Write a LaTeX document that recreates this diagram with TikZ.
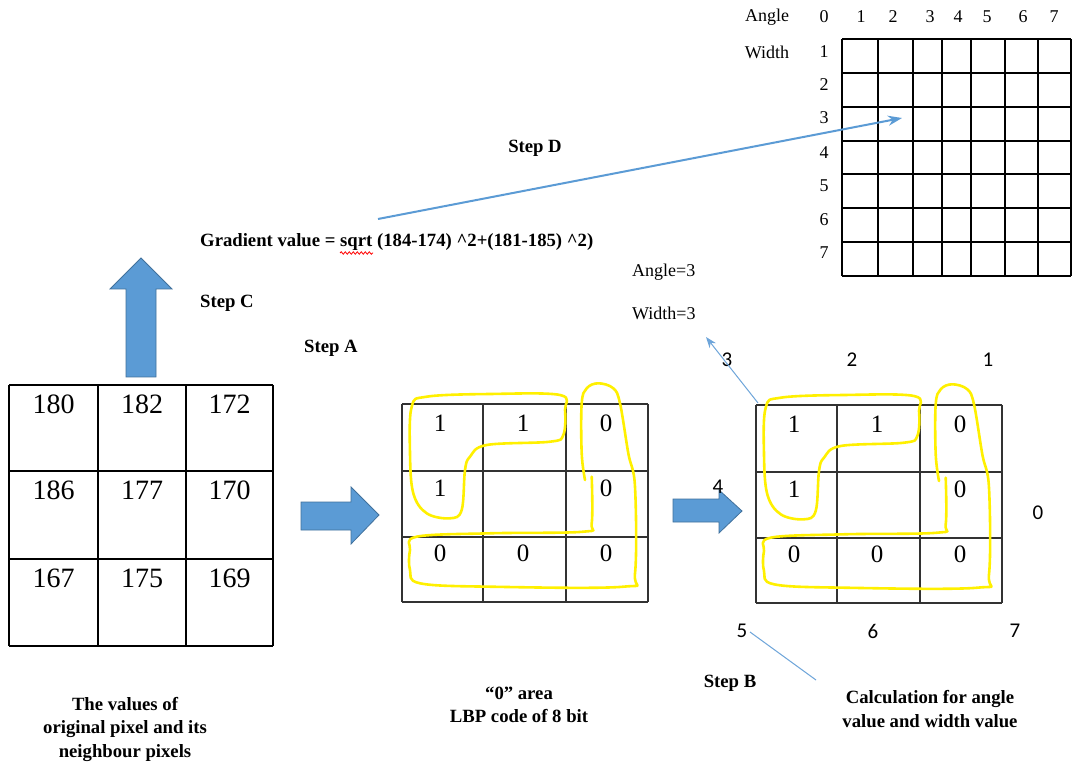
\documentclass[tikz,border=0pt]{standalone}
\usepackage{fontspec}
\setmainfont{Liberation Serif}
\newfontfamily\calib{Carlito}
\usetikzlibrary{arrows.meta,decorations.pathmorphing}
\definecolor{arrowblue}{RGB}{91,155,213}
\definecolor{arrowedge}{RGB}{65,113,156}
\definecolor{thinblue}{RGB}{110,165,218}
\definecolor{hiyellow}{RGB}{255,240,0}
\definecolor{gridgray}{RGB}{50,50,50}
\tikzset{
  bignum/.style={inner sep=0pt,font=\fontsize{28}{30}\selectfont},
  bitnum/.style={inner sep=0pt,font=\fontsize{25}{27}\selectfont},
  dirnum/.style={inner sep=0pt,font=\calib\fontsize{21}{23}\selectfont},
  smalltxt/.style={inner sep=0pt,font=\fontsize{18}{20}\selectfont},
  boldlbl/.style={inner sep=0pt,align=center,font=\bfseries\fontsize{18.7}{23.5}\selectfont},
  blockarrow/.style={fill=arrowblue,draw=arrowedge,line width=0.8pt,line join=miter},
  thinarrow/.style={draw=thinblue,line width=1pt},
  loopline/.style={draw=hiyellow,line width=2.6pt,line cap=round,line join=round},
  gridline/.style={draw=gridgray,line width=2pt},
  thingrid/.style={draw=black,line width=1.2pt},
}
\begin{document}
\begin{tikzpicture}[x=1pt,y=-1pt]
\useasboundingbox (0,0) rectangle (1072,767);
\fill[white] (0,0) rectangle (1072,767);

% ---------- top-right table ----------
\foreach \x in {842,878,913,942,971,1005,1038,1071}
  \draw[thingrid] (\x,39) -- (\x,276);
\foreach \y in {39,73,107,141,174,208,242,276}
  \draw[thingrid] (842,\y) -- (1071,\y);
\node[smalltxt] (angl) at (767,17) {Angle};
\node[smalltxt] (widl) at (767,52) {Width};
\foreach \t/\x in {0/824,1/861,2/893,3/930,4/958,5/987,6/1023,7/1054}
  \node[smalltxt] (ac\t) at (\x,17) {\t};
\foreach \t/\y in {1/52,2/85,3/118,4/153,5/186,6/220,7/253}
  \node[smalltxt] (wr\t) at (824,\y) {\t};

% ---------- texts ----------
\node[boldlbl] (stepd) at (535,148) {Step D};
\node[boldlbl,anchor=west] (grad) at (200,242) {Gradient value = sqrt (184-174) \textasciicircum2+(181-185) \textasciicircum2)};
\draw[red,line width=0.8pt,decorate,decoration={snake,segment length=4pt,amplitude=1.2pt}] (340,253) -- (373,253);
\node[boldlbl] (stepc) at (227,303) {Step C};
\node[boldlbl] (stepa) at (331,348) {Step A};
\node[smalltxt,anchor=west] (angv) at (632,272) {Angle=3};
\node[smalltxt,anchor=west] (widv) at (632,313) {Width=3};
\node[boldlbl] (stepb) at (730,683) {Step B};
\node[boldlbl] (calc) at (930,709) {Calculation for angle\\value and width value};
\node[boldlbl] (lblleft) at (125,729) {The values of\\original pixel and its\\neighbour pixels};
\node[boldlbl] (lblmid) at (519,705) {``0'' area\\LBP code of 8 bit};

% Step D arrow
\coordinate (dstart) at (378,219);
\coordinate (dend) at (902,118);
\draw[draw=arrowblue,line width=2pt,-{Stealth[length=14pt,width=10pt]}] (dstart) -- (dend);

% ---------- left grid ----------
\foreach \x in {9,98,186,273}
  \draw[thingrid] (\x,385) -- (\x,646);
\foreach \y in {385,471,559,646}
  \draw[thingrid] (9,\y) -- (273,\y);
\node[bignum] (p11) at (53.5,404) {180};
\node[bignum] (p12) at (142,404) {182};
\node[bignum] (p13) at (229.5,404) {172};
\node[bignum] (p21) at (53.5,490) {186};
\node[bignum] (p22) at (142,490) {177};
\node[bignum] (p23) at (229.5,490) {170};
\node[bignum] (p31) at (53.5,578) {167};
\node[bignum] (p32) at (142,578) {175};
\node[bignum] (p33) at (229.5,578) {169};

% up arrow (Step C)
\draw[blockarrow] (126,377) -- (126,289) -- (110,289) -- (141,258) -- (172,289) -- (156,289) -- (156,377) -- cycle;
% right arrows
\draw[blockarrow] (301,502) -- (351,502) -- (351,487) -- (379,515) -- (351,544) -- (351,530) -- (301,530) -- cycle;
\draw[blockarrow] (673,499) -- (719,499) -- (719,490) -- (742,511) -- (719,533) -- (719,522) -- (673,522) -- cycle;

% ---------- middle and right grids ----------
\foreach \dx/\dy/\g in {0/0/m,354/1/r}{
  \begin{scope}[shift={(\dx,\dy)}]
    \foreach \x in {402,483,566,648}
      \draw[gridline] (\x,404) -- (\x,602);
    \foreach \y in {404,471,537,602}
      \draw[gridline] (402,\y) -- (648,\y);
  \end{scope}
}
\foreach \dx/\dy/\g in {0/0/m,354/1/r}{
  \begin{scope}[shift={(\dx,\dy)}]
    \node[bitnum] (\g11) at (440,423) {1};
    \node[bitnum] (\g12) at (523,423) {1};
    \node[bitnum] (\g13) at (606,423) {0};
    \node[bitnum] (\g21) at (440,488) {1};
    \node[bitnum] (\g23) at (606,488) {0};
    \node[bitnum] (\g31) at (440,553) {0};
    \node[bitnum] (\g32) at (523,553) {0};
    \node[bitnum] (\g33) at (606,553) {0};
    % yellow loop around the 1s
    \draw[loopline] plot[smooth cycle,tension=0.6] coordinates {
      (411.7,406.7) (426.7,396.7) (490,394) (560,395) (565,410) (563.3,435)
      (550,441.7) (486.7,445) (470,456.7) (465,470) (461.7,510) (450,518.3)
      (426.7,513.3) (413.3,493.3) (410,453.3)};
    % yellow loop around the 0s
    \draw[loopline] plot[smooth,tension=0.6] coordinates {
      (591.7,476.7) (591.7,523.3) (583.3,531.7) (490,533.3) (416.7,536.7)
      (410,550) (410,570) (420,583.3) (490,586.7) (623.3,586.7) (635,573.3)
      (635,486.7) (628.3,453.3) (620,403.3) (613.3,388.3) (598.3,383.3)
      (586.7,388.3) (581.7,403.3) (581.7,453.3) (585,480)};
  \end{scope}
}

% direction labels
\node[dirnum] (d3) at (727,360) {3};
\node[dirnum] (d2) at (852,360) {2};
\node[dirnum] (d1) at (988,360) {1};
\node[dirnum] (d4) at (718,487) {4};
\node[dirnum] (d0) at (1038,513) {0};
\node[dirnum] (d5) at (742,631) {5};
\node[dirnum] (d6) at (873,631) {6};
\node[dirnum] (d7) at (1015,631) {7};

% thin arrows
\coordinate (tstart) at (758,403);
\coordinate (ttip) at (706,337);
\draw[thinarrow,-{Stealth[length=11pt,width=8pt]}] (tstart) -- (ttip);
\coordinate (cend) at (816,680);
\draw[thinarrow] (750,632) -- (cend);
\end{tikzpicture}
\end{document}
